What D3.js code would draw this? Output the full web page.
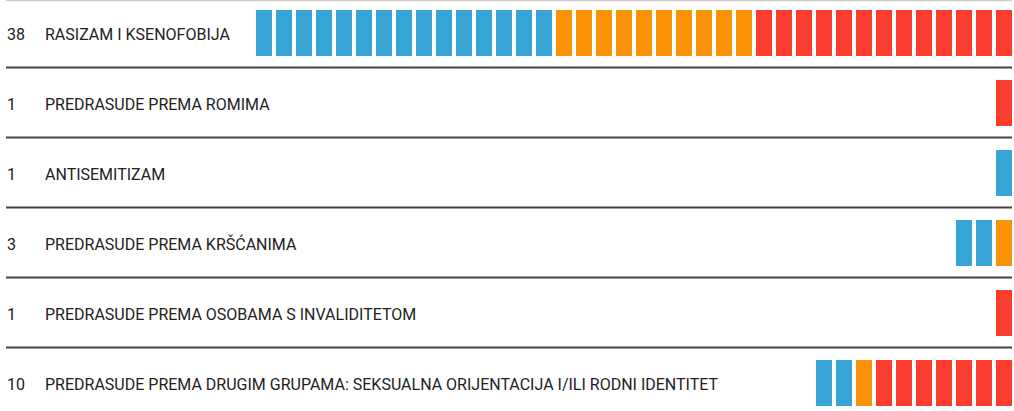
<!DOCTYPE html>
<html>
<head>
<meta charset="utf-8">
<script src="https://cdn.jsdelivr.net/npm/d3@7"></script>
<style>
    body { margin: 0; background: #fff; }
    text { font-family: Roboto, "Noto Sans", sans-serif; fill: #222; }
</style>
</head>
<body>
<div id="chart"></div>
<script>
const width = 1014,
    height = 411;

// data
const categories = [
    "RASIZAM I KSENOFOBIJA",
    "PREDRASUDE PREMA ROMIMA",
    "ANTISEMITIZAM",
    "PREDRASUDE PREMA KRŠĆANIMA",
    "PREDRASUDE PREMA OSOBAMA S INVALIDITETOM",
    "PREDRASUDE PREMA DRUGIM GRUPAMA: SEKSUALNA ORIJENTACIJA I/ILI RODNI IDENTITET",
];
const blueCounts = [15, 0, 1, 2, 0, 2];
const orangeCounts = [10, 0, 0, 1, 0, 1];
const redCounts = [13, 1, 0, 0, 1, 7];
const groups = ["blue", "orange", "red"];
const colors = ["#37a6d7", "#fa9106", "#fc3d30"];

const rows = categories.map((c, i) => {
    const cells = [];
    [blueCounts[i], orangeCounts[i], redCounts[i]].forEach((n, g) => {
        for (let k = 0; k < n; k++) cells.push(groups[g]);
    });
    return { category: c, total: cells.length, cells: cells };
});

const maxTotal = d3.max(rows, (d) => d.total);

const svg = d3
    .select("#chart")
    .append("svg")
    .attr("width", width)
    .attr("height", height);

const yScale = d3.scaleBand().domain(categories).range([0, 420]);
const xScale = d3
    .scaleBand()
    .domain(d3.range(maxTotal))
    .range([256, 1012])
    .paddingInner(0.2);
const colorScale = d3.scaleOrdinal().domain(groups).range(colors);

// top rule
svg.append("line")
    .attr("x1", 6)
    .attr("x2", 1012)
    .attr("y1", 0.5)
    .attr("y2", 0.5)
    .attr("stroke", "#cfcfcf")
    .attr("stroke-width", 1.5);

const row = svg
    .selectAll(".row")
    .data(rows)
    .join("g")
    .attr("class", "row")
    .attr("transform", (d) => `translate(0, ${yScale(d.category)})`);

row.append("text")
    .attr("x", 7)
    .attr("y", 40)
    .style("font-size", "16px")
    .text((d) => d.total);

row.append("text")
    .attr("x", 45)
    .attr("y", 40)
    .style("font-size", "16px")
    .text((d) => d.category);

row.selectAll("rect")
    .data((d) => d.cells.map((c, j) => ({ group: c, slot: maxTotal - d.total + j })))
    .join("rect")
    .attr("x", (d) => xScale(d.slot))
    .attr("y", 10)
    .attr("width", xScale.bandwidth())
    .attr("height", 46)
    .attr("fill", (d) => colorScale(d.group));

row.append("line")
    .attr("x1", 6)
    .attr("x2", 1012)
    .attr("y1", 67.5)
    .attr("y2", 67.5)
    .attr("stroke", "#444")
    .attr("stroke-width", 2);
</script>
</body>
</html>
